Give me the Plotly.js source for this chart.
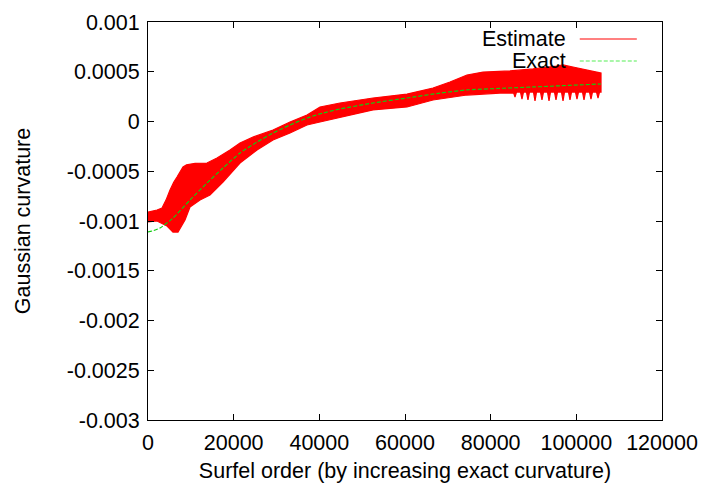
<!DOCTYPE html>
<html>
<head>
<meta charset="utf-8">
<script src="https://cdn.plot.ly/plotly-3.0.1.min.js"></script>
<style>
  html, body { margin: 0; padding: 0; background: #fff; }
  #chart { width: 704px; height: 487px; }
</style>
</head>
<body>
<div id="chart"></div>
<script>
// ---- Data ----
// Estimate: upper envelope of the oscillating estimate band
const estUpperX = [0, 2100, 3270, 4200, 5140, 6000, 6770, 7500, 8170, 9000, 9810, 11000, 13770, 16110, 19140, 21480, 24510, 29180, 33150, 37120, 40150, 44820, 52530, 60470, 66540, 70500, 74470, 78210, 84510, 89880, 95480, 96890, 99220, 102490, 105760];
const estUpperY = [-0.00091, -0.000889, -0.000869, -0.00079, -0.000688, -0.00061, -0.000558, -0.000505, -0.000457, -0.000435, -0.000427, -0.00042, -0.000417, -0.000367, -0.000286, -0.000216, -0.000156, -0.000085, -0.000005, 0.000065, 0.000146, 0.000186, 0.000236, 0.000276, 0.000337, 0.000397, 0.000467, 0.000497, 0.000508, 0.000528, 0.000558, 0.000568, 0.000548, 0.000518, 0.000487];
// Estimate: lower envelope (with the narrow downward spikes near the end)
const estLowerX = [0, 2100, 4440, 5840, 7000, 8640, 9810, 12140, 14470, 17510, 21480, 25450, 29180, 33150, 37120, 40150, 44820, 52530, 60470, 66540, 74470, 82180, 85210,
  85330, 85680, 86030, 86960, 87310, 87660, 88360, 88710, 89060, 90000, 90350, 90700, 91630, 91980, 92330, 93270, 93620, 93970, 94900, 95250, 95600,
  96540, 96890, 97240, 98170, 98520, 98870, 99800, 100150, 100500, 101440, 101790, 102140, 103070, 103420, 103770, 104710, 105060, 105410, 105760];
const estLowerY = [-0.00101, -0.001, -0.00105, -0.001111, -0.001111, -0.00099, -0.000859, -0.000789, -0.000739, -0.000608, -0.000417, -0.000286, -0.000186, -0.000116, -0.000035, -0.000005, 0.000045, 0.000116, 0.000146, 0.000216, 0.000266, 0.000286, 0.000286,
  0.000292, 0.000246, 0.000296, 0.000296, 0.000226, 0.000296, 0.000296, 0.000216, 0.000296, 0.000296, 0.000206, 0.000296, 0.000296, 0.000216, 0.000296, 0.000296, 0.000206, 0.000296, 0.000296, 0.000216, 0.000296,
  0.000296, 0.000206, 0.000296, 0.000296, 0.000216, 0.000296, 0.000296, 0.000226, 0.000296, 0.000296, 0.000216, 0.000296, 0.000296, 0.000226, 0.000296, 0.000296, 0.000236, 0.000296, 0.000296];
// Exact curvature
const exactX = [0, 1000, 2800, 5840, 9810, 13770, 17510, 21480, 25450, 29180, 33150, 37120, 40860, 44820, 52530, 60470, 68170, 74470, 89880, 105760];
const exactY = [-0.00111, -0.0011, -0.00107, -0.00097, -0.000789, -0.000618, -0.000467, -0.000317, -0.000206, -0.000116, -0.000035, 0.000035, 0.000085, 0.000126, 0.000186, 0.000236, 0.000286, 0.000317, 0.000347, 0.000377];

const seriesNames = ['Estimate', 'Exact'];
const xTickVals = [0, 20000, 40000, 60000, 80000, 100000, 120000];
const xTickText = ['0', '20000', '40000', '60000', '80000', '100000', '120000'];
const yTickVals = [0.001, 0.0005, 0, -0.0005, -0.001, -0.0015, -0.002, -0.0025, -0.003];
const yTickText = ['0.001', '0.0005', '0', '-0.0005', '-0.001', '-0.0015', '-0.002', '-0.0025', '-0.003'];
const xTitle = 'Surfel order (by increasing exact curvature)';
const yTitle = 'Gaussian curvature';

// ---- Build traces ----
const bandX = estUpperX.concat(estLowerX.slice().reverse());
const bandY = estUpperY.concat(estLowerY.slice().reverse());

const FONT = '"Liberation Sans", Arial, Helvetica, sans-serif';
const FS = 21.5;

const traces = [
  {
    x: bandX, y: bandY, type: 'scatter', mode: 'lines',
    fill: 'toself', fillcolor: '#ff0000',
    line: { color: '#ff0000', width: 1.2 },
    name: seriesNames[0], showlegend: false, hoverinfo: 'skip'
  },
  {
    x: exactX, y: exactY, type: 'scatter', mode: 'lines',
    line: { color: '#11cc11', width: 1.2, dash: '4px,2px', shape: 'spline', smoothing: 0.6 },
    name: seriesNames[1], showlegend: false
  }
];

const axisCommon = {
  showline: true, linecolor: '#000', linewidth: 1, mirror: 'allticks',
  ticks: 'inside', ticklen: 6, tickcolor: '#000', tickwidth: 1,
  showgrid: false, zeroline: false,
  tickfont: { family: FONT, size: FS, color: '#000' },
  tickmode: 'array'
};

const layout = {
  width: 704, height: 487,
  margin: { l: 148, r: 42, t: 22, b: 67 },
  paper_bgcolor: '#fff', plot_bgcolor: '#fff',
  showlegend: false,
  xaxis: Object.assign({}, axisCommon, {
    range: [0, 120000], tickvals: xTickVals, ticktext: xTickText,
    ticklabelstandoff: 3,
    title: { text: xTitle, font: { family: FONT, size: FS, color: '#000' }, standoff: 9 }
  }),
  yaxis: Object.assign({}, axisCommon, {
    range: [-0.003, 0.001], tickvals: yTickVals, ticktext: yTickText,
    ticklabelstandoff: 3,
    title: { text: yTitle, font: { family: FONT, size: FS, color: '#000' }, standoff: 30 }
  }),
  annotations: [
    { xref: 'paper', yref: 'paper', x: 0.818, y: 0.957, xanchor: 'right', yanchor: 'middle',
      text: seriesNames[0], showarrow: false, font: { family: FONT, size: FS, color: '#000' } },
    { xref: 'paper', yref: 'paper', x: 0.818, y: 0.902, xanchor: 'right', yanchor: 'middle',
      text: seriesNames[1], showarrow: false, font: { family: FONT, size: FS, color: '#000' } }
  ],
  shapes: [
    { type: 'line', xref: 'paper', yref: 'paper', x0: 0.840, x1: 0.951, y0: 0.957, y1: 0.957,
      line: { color: '#ff8080', width: 2 } },
    { type: 'line', xref: 'paper', yref: 'paper', x0: 0.840, x1: 0.951, y0: 0.902, y1: 0.902,
      line: { color: '#55ee55', width: 1.2, dash: '4px,2px' } }
  ]
};

Plotly.newPlot('chart', traces, layout, { staticPlot: true, displayModeBar: false });
</script>
</body>
</html>
